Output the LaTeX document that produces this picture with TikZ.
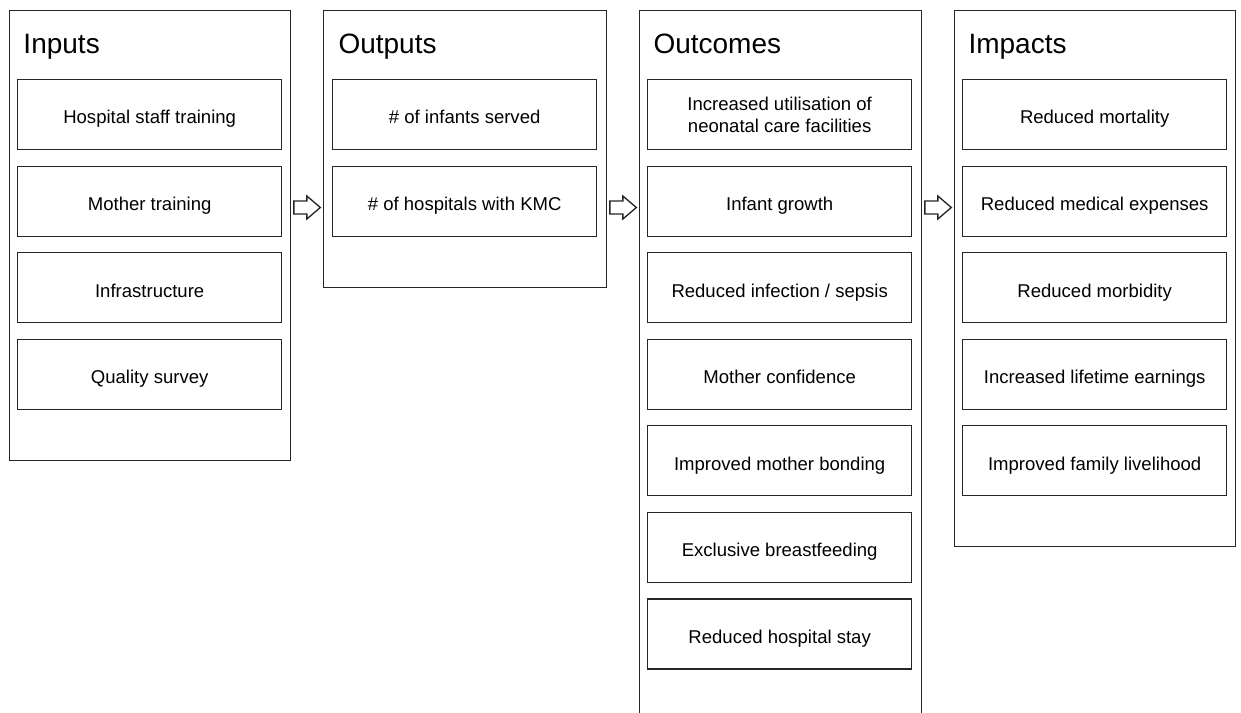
\documentclass[tikz,border=0pt]{standalone}
\usepackage{fontspec}
\setmainfont{Liberation Sans}
\usetikzlibrary{positioning}

\tikzset{every picture/.style={line width=0.75pt}}
\tikzset{
  panel/.style={draw=black!85, line width=1pt, anchor=north west, inner sep=0pt},
  item/.style={draw=black!85, line width=1pt, minimum width=198pt, minimum height=52.5pt, align=center, inner sep=0pt, text height=14pt, text depth=0pt, font=\fontsize{13.9}{16.5}\selectfont},
  heading/.style={anchor=base west, inner sep=0pt, font=\fontsize{21}{25}\selectfont},
  blockarrow/.style={draw=black!85, line width=1pt, fill=white, line join=miter}
}

\begin{document}
\begin{tikzpicture}[x=0.75pt,y=0.75pt,yscale=-1,xscale=1,node distance=11.4pt]
\clip (0,0) rectangle (1241,713); %set diagram size to 1241 x 713

%Panels
\node[panel, minimum width=210.75pt, minimum height=337.5pt] (inputs) at (9,10) {};
\node[panel, minimum width=212.25pt, minimum height=207.75pt] (outputs) at (323,10) {};
\node[panel, minimum width=211.5pt, minimum height=540pt] (outcomes) at (639,10) {};
\node[panel, minimum width=210.75pt, minimum height=402pt] (impacts) at (954,10) {};

%Headings
\node[heading] (inputsT) at (23,54) {Inputs};
\node[heading] (outputsT) at (338,54) {Outputs};
\node[heading] (outcomesT) at (653,54) {Outcomes};
\node[heading] (impactsT) at (968,54) {Impacts};

%Inputs
\node[item, anchor=north west] (in1) at (17,79) {Hospital staff training};
\node[item, below=of in1] (in2) {Mother training};
\node[item, below=of in2] (in3) {Infrastructure};
\node[item, below=of in3] (in4) {Quality survey};

%Outputs
\node[item, anchor=north west] (out1) at (332,79) {\# of infants served};
\node[item, below=of out1] (out2) {\# of hospitals with KMC};

%Outcomes
\node[item, anchor=north west, text height=, text depth=] (oc1) at (647,79) {Increased utilisation of\\neonatal care facilities};
\node[item, below=of oc1] (oc2) {Infant growth};
\node[item, below=of oc2] (oc3) {Reduced infection / sepsis};
\node[item, below=of oc3] (oc4) {Mother confidence};
\node[item, below=of oc4] (oc5) {Improved mother bonding};
\node[item, below=of oc5] (oc6) {Exclusive breastfeeding};
\node[item, below=of oc6] (oc7) {Reduced hospital stay};

%Impacts
\node[item, anchor=north west] (im1) at (962,79) {Reduced mortality};
\node[item, below=of im1] (im2) {Reduced medical expenses};
\node[item, below=of im2] (im3) {Reduced morbidity};
\node[item, below=of im3] (im4) {Increased lifetime earnings};
\node[item, below=of im4] (im5) {Improved family livelihood};

%Block arrows
\draw[blockarrow] (inputs.north east) ++(2.5,191) -- ++(13,0) -- ++(0,-5) -- ++(13.5,11.5) -- ++(-13.5,11.5) -- ++(0,-5) -- ++(-13,0) -- cycle;
\draw[blockarrow] (outputs.north east) ++(2.5,191) -- ++(13,0) -- ++(0,-5) -- ++(13.5,11.5) -- ++(-13.5,11.5) -- ++(0,-5) -- ++(-13,0) -- cycle;
\draw[blockarrow] (outcomes.north east) ++(2.5,191) -- ++(13,0) -- ++(0,-5) -- ++(13.5,11.5) -- ++(-13.5,11.5) -- ++(0,-5) -- ++(-13,0) -- cycle;
\end{tikzpicture}
\end{document}
